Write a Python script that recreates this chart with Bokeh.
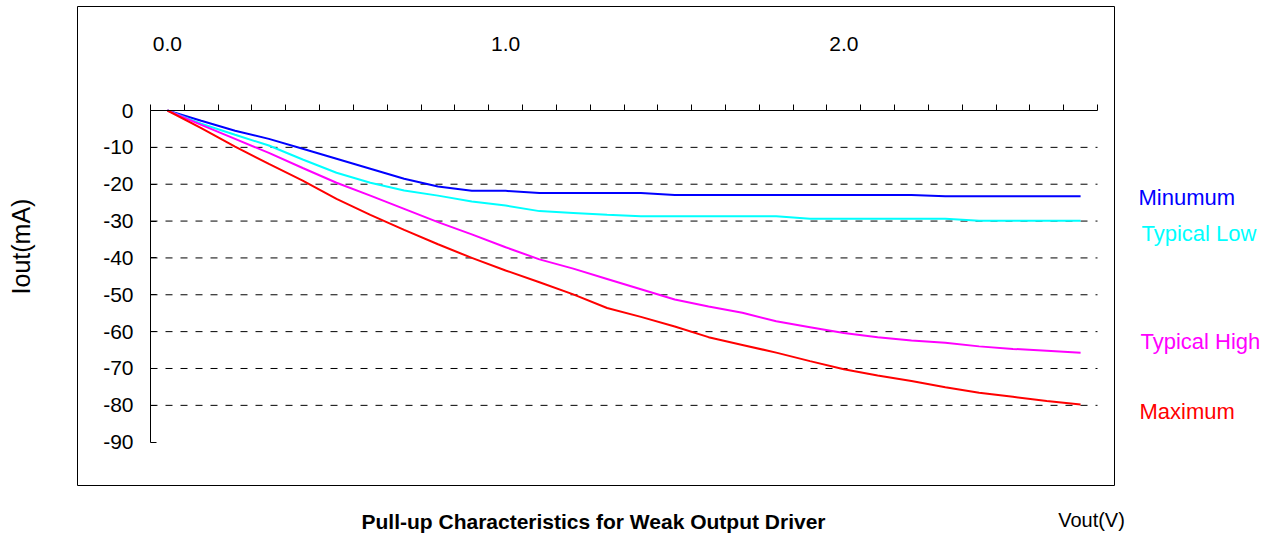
import math
from bokeh.plotting import figure
from bokeh.models import (Range1d, FixedTicker, Label, BoxAnnotation, LinearAxis,
                          NumeralTickFormatter, PrintfTickFormatter)
from bokeh.embed import file_html
from bokeh.resources import INLINE

# ---------------- data ----------------
vout = [0.0, 0.1, 0.2, 0.3, 0.4, 0.5, 0.6, 0.7, 0.8, 0.9,
        1.0, 1.1, 1.2, 1.3, 1.4, 1.5, 1.6, 1.7, 1.8, 1.9,
        2.0, 2.1, 2.2, 2.3, 2.4, 2.5, 2.6, 2.7]

minimum = [0, -2.8, -5.5, -7.7, -10.4, -13.1, -15.8, -18.5, -20.6, -21.8,
           -21.8, -22.4, -22.4, -22.4, -22.4, -22.9, -22.9, -22.9, -22.9, -22.9,
           -22.9, -22.9, -22.9, -23.3, -23.3, -23.3, -23.3, -23.3]

typical_low = [0, -3.6, -6.6, -9.5, -13.3, -16.9, -19.6, -21.7, -23.1, -24.7,
               -25.8, -27.3, -27.8, -28.3, -28.7, -28.7, -28.7, -28.7, -28.7, -29.4,
               -29.4, -29.4, -29.4, -29.4, -29.9, -29.9, -29.9, -29.9]

typical_high = [0, -3.9, -7.7, -11.5, -15.6, -19.6, -23.1, -26.7, -30.3, -33.6,
                -37.1, -40.4, -42.9, -45.7, -48.5, -51.3, -53.2, -54.9, -57.2, -58.8,
                -60.4, -61.5, -62.4, -63.0, -64.0, -64.7, -65.2, -65.7]

maximum = [0, -4.8, -9.8, -14.5, -19.0, -24.0, -28.3, -32.4, -36.3, -40.0,
           -43.4, -46.6, -49.9, -53.6, -56.0, -58.6, -61.5, -63.6, -65.7, -68.0,
           -70.2, -71.9, -73.4, -75.1, -76.6, -77.7, -78.8, -79.8]

series_names = ["Minumum", "Typical Low", "Typical High", "Maximum"]
series_colors = ["#0000FF", "#00FFFF", "#FF00FF", "#FF0000"]

x_tick_values = [0.0, 1.0, 2.0]
y_tick_values = [0, -10, -20, -30, -40, -50, -60, -70, -80, -90]

title_text = "Pull-up Characteristics for Weak Output Driver"
x_label = "Vout(V)"
y_label = "Iout(mA)"

# ---------------- layout ----------------
W, H = 1279, 536
AX_L, AX_R = -0.05, 2.75          # axis extent (category boundaries)
AY_B, AY_T = -90, 0
PX_L, PX_R = 150, 1097            # pixel positions of axis extent
PY_T, PY_B = 110, 441.7
SX = (PX_R - PX_L) / (AX_R - AX_L)
SY = (PY_B - PY_T) / (AY_T - AY_B)
FONT = "Liberation Sans"


def dx(px):
    return AX_L + (px - PX_L) / SX


def dy(py):
    return AY_T - (py - PY_T) / SY


p = figure(width=W, height=H,
           x_range=Range1d(dx(0), dx(W)), y_range=Range1d(dy(H), dy(0)),
           x_axis_type=None, y_axis_type=None,
           output_backend="svg", toolbar_location=None, min_border=0)
p.outline_line_color = None
p.background_fill_color = "white"
p.border_fill_color = "white"

# outer chart-area border
p.add_layout(BoxAnnotation(left=dx(77), right=dx(1114), top=dy(6), bottom=dy(485),
                           fill_color=None, fill_alpha=0,
                           line_color="black", line_alpha=1.0, line_width=1,
                           level="underlay"))

# dashed horizontal gridlines
grid_y = y_tick_values[1:-1]
p.segment(x0=[AX_L] * len(grid_y), x1=[AX_R] * len(grid_y), y0=grid_y, y1=grid_y,
          line_color="black", line_width=1, line_dash="7 8")

# series
for vals, col in zip([minimum, typical_low, typical_high, maximum], series_colors):
    p.line(vout, vals, line_color=col, line_width=2)

# x axis along y = 0, labels on top
minor = [round(AX_L + 0.1 * k, 2) for k in range(29)]
xa = LinearAxis(fixed_location=0, bounds=(AX_L, AX_R),
                ticker=FixedTicker(ticks=x_tick_values, minor_ticks=minor),
                formatter=NumeralTickFormatter(format="0.0"))
xa.major_tick_in = 0
xa.major_tick_out = 0
xa.minor_tick_in = 0
xa.minor_tick_out = 6
xa.minor_tick_line_color = "black"
xa.axis_line_color = "black"
xa.major_label_standoff = 54
xa.major_label_text_font = FONT
xa.major_label_text_font_size = "21px"
xa.major_label_text_color = "black"
p.add_layout(xa, "above")

# y axis at the left category boundary
ya = LinearAxis(fixed_location=AX_L, bounds=(AY_B, AY_T),
                ticker=FixedTicker(ticks=y_tick_values),
                formatter=PrintfTickFormatter(format="%d"))
ya.major_tick_in = 6
ya.major_tick_out = 0
ya.minor_tick_in = 0
ya.minor_tick_out = 0
ya.major_tick_line_color = "black"
ya.axis_line_color = "black"
ya.major_label_standoff = 17
ya.major_label_text_font = FONT
ya.major_label_text_font_size = "21px"
ya.major_label_text_color = "black"
p.add_layout(ya, "left")

# series labels
label_pos = [(1138, 197), (1141, 233), (1140, 341), (1139, 411)]
for name, col, (px, py) in zip(series_names, series_colors, label_pos):
    p.add_layout(Label(x=dx(px), y=dy(py), text=name, text_color=col,
                       text_font=FONT, text_font_size="22px",
                       text_align="left", text_baseline="middle"))

# axis titles and chart title
p.add_layout(Label(x=dx(20), y=dy(246), text=y_label, angle=math.pi / 2,
                   text_font=FONT, text_font_size="25px", text_color="black",
                   text_align="center", text_baseline="middle"))
p.add_layout(Label(x=dx(593), y=dy(521), text=title_text,
                   text_font=FONT, text_font_size="21px", text_font_style="bold",
                   text_color="black", text_align="center", text_baseline="middle"))
p.add_layout(Label(x=dx(1091), y=dy(519), text=x_label,
                   text_font=FONT, text_font_size="20px", text_color="black",
                   text_align="center", text_baseline="middle"))

open("out.html", "w").write(file_html(p, INLINE))
